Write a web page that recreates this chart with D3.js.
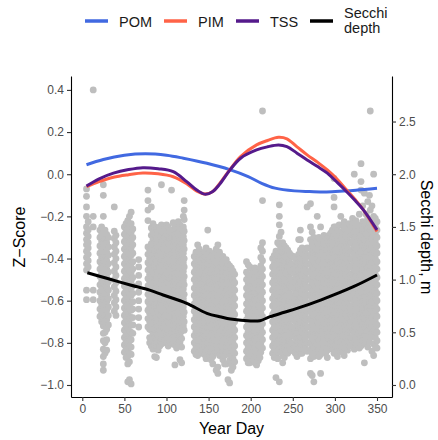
<!DOCTYPE html>
<html>
<head>
<meta charset="utf-8">
<script src="https://cdn.jsdelivr.net/npm/d3@7"></script>
<style>
  body { margin: 0; background: #fff; }
  svg text { font-family: "Liberation Sans", Arial, Helvetica, sans-serif; }
</style>
</head>
<body>
<div id="chart"></div>
<script>
// Secchi observations, one column per sampling day: [day, depth1, depth2, ...] (m)
var secchiObs = [
  [5, 1.86,1.79,1.69,1.6,1.5,1.44,1.38,1.33,1.27,1.21,1.15,1.09,0.9,0.81],
  [7, 1.55,1.47,1.41,1.35,1.3,1.24,1.18,1.12],
  [13, 2.8,1.6,1.5,0.9,0.81],
  [21, 1.47,1.4,1.32,1.25,1.17,1.1,1.03,0.95,0.88,0.8,0.72,0.65],
  [23, 1.5,1.43,1.36,1.28,1.21,1.13,1.06,0.98,0.91,0.84,0.76,0.68,0.6],
  [25, 1.9,1.8,1.6,1.44,1.36,1.29,1.21,1.13,1.06,0.99,0.91,0.84,0.77,0.7,0.63,0.56,0.49,0.42,0.34,0.27,0.2,0.14],
  [27, 1.47,1.39,1.32,1.24,1.17,1.1,1.02,0.95,0.87,0.8,0.73,0.66,0.59,0.5,0.4,0.3],
  [29, 1.43,1.35,1.26,1.18,1.1,1.02,0.94,0.86,0.79,0.71,0.62,0.53,0.43,0.33],
  [31, 1.4,1.31,1.23,1.15,1.07,0.98,0.9,0.82,0.74,0.66,0.57],
  [38, 1.69,1.46,1.39,1.31,1.24,1.16,1.08,1.0,0.93,0.85,0.78,0.7],
  [40, 1.42,1.35,1.27,1.2,1.12,1.04,0.97,0.89,0.81,0.74,0.66],
  [50, 1.5,1.43,1.36,1.29,1.22,1.15,1.08,1.01,0.94,0.87,0.8,0.73,0.66,0.59,0.52,0.45,0.38,0.31],
  [52, 1.53,1.46,1.39,1.32,1.25,1.18,1.11,1.04,0.97,0.9,0.83,0.76,0.69,0.62,0.55,0.48,0.41,0.34,0.26],
  [54, 1.56,1.48,1.41,1.34,1.26,1.19,1.12,1.05,0.97,0.9,0.83,0.76,0.69,0.62,0.55,0.48,0.41,0.34,0.27,0.2,0.03],
  [56, 1.6,1.51,1.44,1.37,1.29,1.22,1.15,1.08,1.0,0.93,0.86,0.79,0.72,0.65,0.58,0.51,0.44,0.37,0.3,0.22,0.05],
  [58, 1.64,1.53,1.45,1.37,1.3,1.23,1.15,1.07,0.99,0.92,0.85,0.78,0.71,0.64,0.57,0.5,0.43,0.36,0.29,0.01],
  [60, 1.48,1.4,1.33,1.25,1.17,1.1,1.02,0.94,0.87,0.79,0.72,0.64,0.57,0.49],
  [67, 1.19,1.12,1.04,0.96,0.88,0.8,0.72,0.64,0.55],
  [78, 1.85,1.75,1.66,1.56,1.31,1.24,1.16,1.09,1.01,0.94,0.86,0.79,0.71,0.63,0.55],
  [80, 1.28,1.2,1.13,1.05,0.98,0.9,0.83,0.75,0.68,0.6,0.53,0.45,0.4],
  [82, 1.69,1.49,1.42,1.34,1.27,1.19,1.12,1.04,0.97,0.89,0.82,0.74,0.67,0.59,0.52,0.44,0.37],
  [84, 1.53,1.46,1.38,1.31,1.23,1.16,1.08,1.01,0.93,0.86,0.78,0.71,0.63,0.56,0.48,0.41,0.34],
  [86, 1.5,1.43,1.35,1.28,1.2,1.13,1.05,0.98,0.9,0.83,0.75,0.68,0.6,0.53,0.45,0.38,0.27],
  [88, 1.47,1.39,1.32,1.24,1.17,1.09,1.02,0.94,0.87,0.79,0.72,0.64,0.57,0.49,0.42,0.35,0.26],
  [90, 1.46,1.38,1.31,1.23,1.16,1.08,1.01,0.93,0.86,0.78,0.71,0.63,0.56,0.48,0.41,0.33],
  [92, 1.5,1.42,1.35,1.27,1.2,1.12,1.05,0.97,0.9,0.82,0.75,0.67,0.6,0.52,0.45,0.37],
  [94, 1.9,1.52,1.44,1.36,1.29,1.21,1.14,1.06,0.99,0.91,0.84,0.76,0.69,0.61,0.54,0.46,0.39],
  [96, 1.45,1.37,1.3,1.22,1.15,1.07,1.0,0.92,0.85,0.77,0.7,0.62,0.55,0.47,0.4],
  [98, 1.48,1.4,1.33,1.25,1.18,1.1,1.03,0.95,0.88,0.8,0.73,0.65,0.58,0.5,0.43],
  [100, 1.52,1.44,1.37,1.29,1.22,1.14,1.07,0.99,0.92,0.84,0.77,0.69,0.62,0.54,0.47,0.4],
  [102, 1.5,1.42,1.35,1.27,1.2,1.12,1.05,0.97,0.9,0.82,0.75,0.67,0.6,0.52,0.45,0.37],
  [104, 1.46,1.39,1.31,1.24,1.16,1.09,1.01,0.94,0.86,0.79,0.71,0.64,0.56,0.49,0.41],
  [106, 1.85,1.47,1.39,1.32,1.24,1.17,1.09,1.02,0.94,0.87,0.79,0.72,0.64,0.57,0.49,0.42],
  [108, 1.54,1.43,1.36,1.28,1.21,1.13,1.06,0.98,0.91,0.83,0.76,0.68,0.61,0.53,0.46,0.39],
  [110, 1.51,1.43,1.36,1.28,1.21,1.13,1.06,0.98,0.91,0.83,0.76,0.68,0.61,0.53,0.46,0.38,0.19],
  [112, 1.47,1.4,1.32,1.25,1.17,1.1,1.02,0.95,0.87,0.8,0.72,0.65,0.57,0.5,0.42,0.35],
  [114, 1.55,1.45,1.38,1.3,1.23,1.15,1.08,1.0,0.93,0.85,0.78,0.7,0.63,0.55,0.48,0.4],
  [116, 1.52,1.45,1.37,1.3,1.22,1.15,1.07,1.0,0.92,0.85,0.77,0.7,0.62,0.55,0.47,0.4,0.24],
  [118, 1.49,1.41,1.34,1.26,1.19,1.11,1.04,0.96,0.89,0.81,0.74,0.66,0.59,0.51,0.44,0.36,0.21],
  [120, 1.6,1.5,1.41,1.33,1.25,1.16,1.08,0.99,0.91,0.82,0.74,0.65,0.56],
  [121, 1.75,1.66,1.57,1.46,1.37,1.29,1.2,1.12,1.03,0.95,0.86,0.78,0.69,0.6,0.52],
  [133, 1.22,1.15,1.07,1.0,0.92,0.85,0.77,0.7,0.62,0.55,0.47,0.4,0.32],
  [135, 1.26,1.18,1.11,1.03,0.96,0.88,0.81,0.73,0.66,0.58,0.51,0.43,0.36,0.29],
  [137, 1.33,1.25,1.18,1.1,1.03,0.95,0.88,0.8,0.73,0.65,0.58,0.5,0.43,0.35,0.28],
  [139, 1.29,1.21,1.14,1.06,0.99,0.91,0.84,0.76,0.69,0.61,0.54,0.46,0.39,0.31],
  [141, 1.24,1.16,1.09,1.01,0.94,0.86,0.79,0.71,0.64,0.56,0.49,0.41,0.34],
  [143, 1.2,1.12,1.05,0.97,0.9,0.82,0.75,0.67,0.6,0.52,0.45,0.37,0.3],
  [145, 1.26,1.19,1.11,1.04,0.96,0.89,0.81,0.74,0.66,0.59,0.51,0.44,0.36,0.29],
  [147, 1.3,1.22,1.15,1.07,1.0,0.92,0.85,0.77,0.7,0.62,0.55,0.47,0.4,0.32,0.25],
  [149, 1.47,1.23,1.15,1.08,1.0,0.93,0.85,0.78,0.7,0.63,0.55,0.48,0.4,0.33],
  [151, 1.27,1.19,1.12,1.04,0.97,0.89,0.82,0.74,0.67,0.59,0.52,0.44,0.37,0.29],
  [153, 1.21,1.14,1.06,0.99,0.91,0.84,0.76,0.69,0.61,0.54,0.46,0.39,0.31,0.24],
  [155, 1.24,1.17,1.1,1.02,0.95,0.87,0.8,0.72,0.65,0.57,0.5,0.42,0.35,0.27,0.2],
  [157, 1.25,1.17,1.1,1.02,0.95,0.87,0.8,0.72,0.65,0.57,0.5,0.42,0.35],
  [159, 1.29,1.21,1.13,1.06,0.98,0.91,0.83,0.76,0.68,0.61,0.53,0.46,0.38,0.31,0.14],
  [161, 1.33,1.22,1.14,1.07,0.99,0.92,0.84,0.77,0.69,0.62,0.54,0.47,0.39,0.32,0.17,0.11],
  [163, 1.26,1.18,1.1,1.03,0.95,0.88,0.8,0.73,0.65,0.58,0.5,0.43,0.35,0.28],
  [165, 1.2,1.12,1.05,0.97,0.9,0.82,0.75,0.67,0.6,0.52,0.45,0.37,0.3],
  [167, 1.22,1.14,1.07,0.99,0.92,0.84,0.77,0.69,0.62,0.54,0.47,0.39,0.32,0.24],
  [169, 1.18,1.1,1.03,0.95,0.88,0.8,0.73,0.65,0.58,0.5,0.43,0.35,0.28,0.2],
  [171, 1.19,1.11,1.04,0.96,0.89,0.81,0.74,0.66,0.59,0.51,0.44,0.36,0.29,0.2],
  [173, 1.15,1.07,1.0,0.92,0.85,0.77,0.7,0.62,0.55,0.47,0.4,0.32,0.05],
  [175, 1.13,1.05,0.98,0.9,0.83,0.75,0.68,0.6,0.53,0.45,0.38,0.3,0.23,0.02],
  [177, 1.11,1.02,0.95,0.87,0.8,0.72,0.65,0.57,0.5,0.42,0.35,0.27,0.2,0.14],
  [179, 1.08,1.0,0.93,0.85,0.78,0.7,0.63,0.55,0.48,0.4,0.33,0.25,0.17],
  [181, 1.05,0.97,0.9,0.82,0.75,0.67,0.6,0.52,0.45,0.37,0.3,0.22],
  [195, 1.17,1.07,1.0,0.92,0.85,0.77,0.7,0.62,0.55,0.47,0.4,0.32,0.25],
  [197, 1.14,1.04,0.96,0.89,0.81,0.74,0.66,0.59,0.51,0.44,0.36,0.28,0.21],
  [199, 1.12,1.04,0.97,0.89,0.82,0.74,0.67,0.59,0.52,0.44,0.37,0.29,0.21],
  [201, 1.1,1.01,0.93,0.86,0.78,0.71,0.63,0.56,0.48,0.41,0.33,0.25],
  [203, 1.07,1.0,0.92,0.85,0.77,0.7,0.62,0.55,0.47,0.4,0.32,0.24],
  [205, 1.11,1.03,0.96,0.88,0.81,0.73,0.66,0.58,0.51,0.43,0.36,0.28,0.21],
  [207, 1.1,1.02,0.95,0.87,0.8,0.72,0.65,0.57,0.5,0.42,0.35,0.27,0.19],
  [209, 1.06,0.98,0.91,0.83,0.76,0.68,0.61,0.53,0.46,0.38,0.31,0.23],
  [211, 1.08,1.0,0.93,0.85,0.78,0.7,0.63,0.55,0.48,0.4,0.33,0.26],
  [212, 1.3,1.21,1.13,1.06,0.99,0.91,0.84,0.76,0.69,0.61,0.54,0.46,0.39,0.31],
  [214, 2.6,1.75,1.35,1.27,1.18,1.1,1.03,0.95,0.88,0.8,0.73,0.65,0.58,0.5,0.43,0.35],
  [226, 1.2,1.12,1.05,0.97,0.9,0.82,0.75,0.67,0.6,0.52,0.45,0.37,0.3],
  [228, 1.23,1.15,1.08,1.0,0.93,0.85,0.78,0.7,0.63,0.55,0.48,0.4,0.33,0.26],
  [230, 1.27,1.19,1.11,1.04,0.96,0.89,0.81,0.74,0.66,0.59,0.51,0.44,0.36,0.29,0.07],
  [232, 1.35,1.23,1.15,1.07,1.0,0.92,0.85,0.77,0.7,0.62,0.55,0.47,0.4,0.32,0.25],
  [234, 1.71,1.6,1.52,1.41,1.33,1.25,1.17,1.09,1.02,0.94,0.87,0.79,0.72,0.64,0.57,0.49,0.42,0.34,0.03],
  [236, 1.45,1.3,1.22,1.14,1.06,0.98,0.91,0.83,0.76,0.68,0.61,0.53,0.46,0.38,0.31],
  [238, 1.35,1.26,1.18,1.11,1.03,0.96,0.88,0.81,0.73,0.66,0.58,0.51,0.43,0.36,0.28,0.21],
  [240, 1.32,1.24,1.16,1.09,1.01,0.94,0.86,0.79,0.71,0.64,0.56,0.49,0.41,0.34,0.26],
  [242, 1.3,1.22,1.14,1.07,0.99,0.92,0.84,0.77,0.69,0.62,0.54,0.47,0.39,0.32],
  [244, 1.28,1.2,1.12,1.05,0.97,0.9,0.82,0.75,0.67,0.6,0.52,0.45,0.37,0.3],
  [246, 1.25,1.17,1.1,1.02,0.95,0.87,0.8,0.72,0.65,0.57,0.5,0.42,0.35],
  [248, 1.23,1.15,1.08,1.0,0.93,0.85,0.78,0.7,0.63,0.55,0.48,0.4,0.33],
  [251, 1.22,1.14,1.07,0.99,0.92,0.84,0.77,0.69,0.62,0.54,0.47,0.39,0.32],
  [253, 1.2,1.12,1.05,0.97,0.9,0.82,0.75,0.67,0.6,0.52,0.45,0.37,0.3],
  [255, 1.17,1.09,1.02,0.94,0.87,0.79,0.72,0.64,0.57,0.49,0.42,0.34,0.27],
  [257, 1.38,1.24,1.16,1.09,1.01,0.94,0.86,0.79,0.71,0.64,0.56,0.49,0.41,0.34],
  [259, 1.47,1.38,1.28,1.2,1.13,1.05,0.98,0.9,0.83,0.75,0.68,0.6,0.53,0.45,0.38,0.3],
  [261, 1.3,1.2,1.13,1.05,0.98,0.9,0.83,0.75,0.68,0.6,0.53,0.45,0.38,0.3],
  [263, 1.24,1.16,1.09,1.01,0.94,0.86,0.79,0.71,0.64,0.56,0.49,0.41,0.34],
  [265, 1.26,1.18,1.11,1.03,0.96,0.88,0.81,0.73,0.66,0.58,0.51,0.43,0.36],
  [267, 1.69,1.3,1.22,1.15,1.07,1.0,0.92,0.85,0.77,0.7,0.62,0.55,0.47,0.4,0.32],
  [271, 1.72,1.5,1.38,1.3,1.23,1.15,1.08,1.0,0.93,0.85,0.78,0.7,0.63,0.55,0.48,0.4,0.33,0.25,0.11],
  [273, 1.45,1.34,1.27,1.19,1.12,1.04,0.97,0.89,0.82,0.74,0.67,0.59,0.52,0.44,0.37,0.29,0.09],
  [275, 1.4,1.32,1.25,1.17,1.1,1.02,0.95,0.87,0.8,0.72,0.65,0.57,0.5,0.42,0.35,0.27,0.03],
  [277, 1.38,1.3,1.23,1.15,1.08,1.0,0.93,0.85,0.78,0.7,0.63,0.55,0.48,0.4,0.33],
  [279, 1.6,1.36,1.28,1.21,1.13,1.06,0.98,0.91,0.83,0.76,0.68,0.61,0.53,0.46,0.38,0.31],
  [281, 1.4,1.32,1.24,1.17,1.09,1.02,0.94,0.87,0.79,0.72,0.64,0.57,0.49,0.42,0.34,0.27],
  [283, 1.5,1.34,1.26,1.19,1.11,1.04,0.96,0.89,0.81,0.74,0.66,0.59,0.51,0.44,0.36,0.29,0.11],
  [285, 1.38,1.3,1.23,1.15,1.08,1.0,0.93,0.85,0.78,0.7,0.63,0.55,0.48,0.4,0.33],
  [287, 1.42,1.34,1.27,1.19,1.12,1.04,0.97,0.89,0.82,0.74,0.67,0.59,0.52,0.44,0.37],
  [289, 1.4,1.31,1.23,1.16,1.08,1.01,0.93,0.86,0.78,0.71,0.63,0.56,0.48,0.41,0.3],
  [291, 1.38,1.3,1.23,1.15,1.08,1.0,0.93,0.85,0.78,0.7,0.63,0.55,0.48,0.4,0.33,0.26],
  [293, 1.42,1.34,1.26,1.19,1.11,1.04,0.96,0.89,0.81,0.74,0.66,0.59,0.51,0.44,0.36],
  [295, 1.44,1.36,1.29,1.21,1.14,1.06,0.99,0.91,0.84,0.76,0.69,0.61,0.54,0.46,0.39],
  [297, 1.47,1.4,1.32,1.25,1.17,1.1,1.02,0.95,0.87,0.8,0.72,0.65,0.57,0.5,0.42,0.34],
  [299, 1.96,1.78,1.69,1.5,1.42,1.35,1.27,1.2,1.12,1.05,0.97,0.9,0.82,0.75,0.67,0.6,0.52,0.45,0.37,0.3],
  [301, 1.5,1.43,1.35,1.28,1.2,1.13,1.05,0.98,0.9,0.83,0.75,0.68,0.6,0.53,0.45,0.38,0.3],
  [303, 1.47,1.39,1.32,1.24,1.17,1.09,1.02,0.94,0.87,0.79,0.72,0.64,0.57,0.49,0.42,0.34,0.27],
  [305, 1.52,1.41,1.34,1.26,1.19,1.11,1.04,0.96,0.89,0.81,0.74,0.66,0.59,0.51,0.44,0.36],
  [307, 1.6,1.45,1.37,1.3,1.22,1.15,1.07,1.0,0.92,0.85,0.77,0.7,0.62,0.55,0.47,0.4,0.32],
  [309, 1.51,1.44,1.36,1.29,1.21,1.14,1.06,0.99,0.91,0.84,0.76,0.69,0.61,0.54,0.46,0.39,0.31],
  [311, 1.55,1.48,1.4,1.33,1.25,1.18,1.1,1.03,0.95,0.88,0.8,0.73,0.65,0.58,0.5,0.43,0.35,0.28],
  [313, 1.5,1.42,1.35,1.27,1.2,1.12,1.05,0.97,0.9,0.82,0.75,0.67,0.6,0.52,0.45,0.37],
  [315, 1.46,1.38,1.31,1.23,1.16,1.08,1.01,0.93,0.86,0.78,0.71,0.63,0.56,0.48,0.41,0.33],
  [317, 1.53,1.45,1.35,1.27,1.19,1.12,1.04,0.97,0.89,0.82,0.74,0.67,0.59,0.52,0.44,0.37],
  [319, 1.5,1.42,1.35,1.27,1.2,1.12,1.05,0.97,0.9,0.82,0.75,0.67,0.6,0.52,0.45,0.38],
  [321, 1.58,1.5,1.42,1.35,1.28,1.2,1.13,1.05,0.98,0.9,0.83,0.75,0.68,0.6,0.53,0.45,0.38],
  [323, 2.0,1.54,1.46,1.39,1.31,1.24,1.16,1.09,1.01,0.94,0.86,0.79,0.71,0.64,0.56,0.49,0.41,0.34],
  [325, 1.56,1.48,1.41,1.33,1.26,1.18,1.11,1.03,0.96,0.88,0.81,0.73,0.66,0.58,0.51,0.43,0.36],
  [327, 1.52,1.44,1.37,1.29,1.22,1.14,1.07,0.99,0.92,0.84,0.77,0.69,0.62,0.54,0.47,0.39],
  [329, 1.62,1.48,1.4,1.33,1.25,1.18,1.1,1.03,0.95,0.88,0.8,0.73,0.65,0.58,0.5,0.43,0.35],
  [331, 2.1,1.93,1.85,1.5,1.42,1.35,1.27,1.2,1.12,1.05,0.97,0.9,0.82,0.75,0.67,0.6,0.52,0.45,0.37],
  [333, 1.7,1.55,1.47,1.39,1.32,1.24,1.17,1.09,1.02,0.94,0.87,0.79,0.72,0.64,0.57,0.49,0.42],
  [335, 1.82,1.53,1.45,1.38,1.3,1.23,1.15,1.08,1.0,0.93,0.85,0.78,0.7,0.63,0.55,0.48,0.4,0.21],
  [337, 1.62,1.52,1.44,1.37,1.29,1.22,1.14,1.07,0.99,0.92,0.84,0.77,0.69,0.62,0.54,0.47,0.39],
  [339, 1.74,1.58,1.48,1.41,1.33,1.26,1.18,1.11,1.03,0.96,0.88,0.81,0.73,0.66,0.58,0.51,0.43,0.36],
  [341, 1.8,1.55,1.47,1.39,1.32,1.24,1.17,1.09,1.02,0.94,0.87,0.79,0.72,0.64,0.57,0.49,0.41],
  [342, 2.6,1.66,1.5,1.43,1.35,1.28,1.2,1.13,1.05,0.98,0.9,0.83,0.75,0.68,0.6,0.53,0.45],
  [344, 1.7,1.54,1.46,1.39,1.31,1.24,1.16,1.09,1.01,0.94,0.86,0.79,0.71,0.64,0.56,0.49,0.32],
  [346, 2.0,1.6,1.51,1.44,1.36,1.29,1.21,1.14,1.06,0.99,0.91,0.84,0.76,0.69,0.61,0.54,0.46,0.39,0.28],
  [348, 1.58,1.5,1.43,1.35,1.28,1.2,1.13,1.05,0.98,0.9,0.83,0.75,0.68,0.6,0.53,0.45,0.37],
  [350, 1.55,1.47,1.4,1.32,1.25,1.17,1.1,1.02,0.95,0.87,0.8,0.72,0.65,0.57,0.5,0.42,0.35]
];

// Smoothed z-score trends (left axis)
var pomDays = [5, 25, 50, 75, 100, 120, 148, 175, 197, 213, 229, 252, 270, 290, 310, 325, 350];
var pomZ    = [0.045, 0.07, 0.09, 0.097, 0.09, 0.076, 0.052, 0.022, -0.011, -0.043, -0.066, -0.079, -0.082, -0.084, -0.08, -0.076, -0.067];

var mixDays = [5, 20, 37, 55, 72, 90, 108, 124, 136, 146, 155, 163, 175, 188, 207, 220, 233, 243, 255, 267, 280, 291, 303, 314, 324, 334, 350];
var pimZ    = [-0.059, -0.035, -0.014, -0.002, 0.006, 0.002, -0.012, -0.045, -0.08, -0.094, -0.082, -0.045, 0.02, 0.084, 0.139, 0.16, 0.175, 0.168, 0.13, 0.092, 0.055, 0.02, -0.025, -0.075, -0.12, -0.17, -0.272];
var tssZ    = [-0.056, -0.022, 0.005, 0.022, 0.031, 0.026, 0.012, -0.035, -0.075, -0.095, -0.082, -0.048, 0.018, 0.076, 0.115, 0.13, 0.139, 0.131, 0.1, 0.068, 0.035, 0.005, -0.04, -0.083, -0.125, -0.17, -0.264];

// Smoothed Secchi depth (right axis, m)
var secchiDays  = [6, 30, 57, 80, 96, 124, 148, 165, 176, 200, 211, 223, 240, 255, 283, 322, 350];
var secchiDepth = [1.065, 1.01, 0.949, 0.9, 0.854, 0.775, 0.68, 0.645, 0.626, 0.607, 0.61, 0.648, 0.69, 0.727, 0.806, 0.933, 1.044];

var xTicks = [0, 50, 100, 150, 200, 250, 300, 350];
var zTicks = [-1.0, -0.8, -0.6, -0.4, -0.2, 0.0, 0.2, 0.4];
var depthTicks = [0.0, 0.5, 1.0, 1.5, 2.0, 2.5];

var legendNames = ["POM", "PIM", "TSS", "Secchi\ndepth"];
var legendColors = ["#4169E1", "#FF6347", "#551A8B", "#000000"];

(function () {
    "use strict";
    var width = 438, height = 440;
    var margin = {left: 71, right: 46, top: 76, bottom: 43};

    var svg = d3.select("#chart").append("svg")
        .attr("width", width)
        .attr("height", height);

    var x = d3.scaleLinear()
        .domain([-13.4, 367.8])
        .range([margin.left, width - margin.right]);

    var y = d3.scaleLinear()   // z-score
        .domain([-1.057, 0.466])
        .range([height - margin.bottom, margin.top]);

    // secondary axis: depth = 2 * (z + 1)
    var yDepth = d3.scaleLinear()
        .domain(y.domain().map(function (z) { return 2 * (z + 1); }))
        .range(y.range());

    //Flatten observation columns into points
    var points = [];
    secchiObs.forEach(function (col) {
        for (var i = 1; i < col.length; i++) points.push({day: col[0], depth: col[i]});
    });

    svg.append("g").selectAll("circle")
        .data(points)
        .enter().append("circle")
        .attr("cx", function (d) { return x(d.day); })
        .attr("cy", function (d) { return yDepth(d.depth); })
        .attr("r", 3.4)
        .attr("fill", "#BEBEBE");

    //Trend lines
    var line = d3.line().curve(d3.curveCatmullRom.alpha(0.5));
    function drawLine(days, vals, scale, color) {
        svg.append("path")
            .attr("d", line(days.map(function (d, i) { return [x(d), scale(vals[i])]; })))
            .attr("fill", "none")
            .attr("stroke", color)
            .attr("stroke-width", 3)
            .attr("stroke-linecap", "butt");
    }
    drawLine(pomDays, pomZ, y, legendColors[0]);
    drawLine(mixDays, pimZ, y, legendColors[1]);
    drawLine(mixDays, tssZ, y, legendColors[2]);
    drawLine(secchiDays, secchiDepth, yDepth, legendColors[3]);

    //Axes
    var fmt = function (v) { return d3.format(".1f")(v).replace("-", "\u2212"); };
    function styleAxis(g) {
        g.select(".domain").attr("stroke", "#000").attr("stroke-width", 1.1);
        g.selectAll(".tick line").attr("stroke", "#333").attr("stroke-width", 1.1);
        g.selectAll(".tick text").attr("fill", "#4D4D4D").style("font-size", "12px");
    }
    svg.append("g")
        .attr("transform", "translate(0," + (height - margin.bottom) + ")")
        .call(d3.axisBottom(x).tickValues(xTicks).tickSize(4).tickPadding(3).tickSizeOuter(0))
        .call(styleAxis);
    svg.append("g")
        .attr("transform", "translate(" + margin.left + ",0)")
        .call(d3.axisLeft(y).tickValues(zTicks).tickFormat(fmt).tickSize(4).tickPadding(3).tickSizeOuter(0))
        .call(styleAxis);
    svg.append("g")
        .attr("transform", "translate(" + (width - margin.right) + ",0)")
        .call(d3.axisRight(yDepth).tickValues(depthTicks).tickFormat(fmt).tickSize(4).tickPadding(3).tickSizeOuter(0))
        .call(styleAxis);

    //Axis titles
    svg.append("text")
        .attr("x", (margin.left + width - margin.right) / 2)
        .attr("y", 434)
        .attr("text-anchor", "middle")
        .style("font-size", "16px")
        .text("Year Day");
    svg.append("text")
        .attr("transform", "translate(25,237) rotate(-90)")
        .attr("text-anchor", "middle")
        .style("font-size", "16px")
        .text("Z\u2212Score");
    svg.append("text")
        .attr("transform", "translate(421,237) rotate(90)")
        .attr("text-anchor", "middle")
        .style("font-size", "16px")
        .text("Secchi depth, m");

    //Legend
    var keyX = [85, 164, 236, 310];
    var leg = svg.append("g").selectAll("g")
        .data(legendNames)
        .enter().append("g")
        .attr("transform", function (d, i) { return "translate(" + keyX[i] + ",21)"; });
    leg.append("line")
        .attr("x1", 0).attr("x2", 23)
        .attr("stroke", function (d, i) { return legendColors[i]; })
        .attr("stroke-width", 3.5);
    leg.append("text")
        .attr("x", 34)
        .style("font-size", "14.5px")
        .attr("fill", "#1A1A1A")
        .each(function (d) {
            var parts = d.split("\n"), t = d3.select(this);
            parts.forEach(function (p, j) {
                t.append("tspan")
                    .attr("x", 34)
                    .attr("y", parts.length === 1 ? 5.5 : (j === 0 ? -2.8 : 12.3))
                    .text(p);
            });
        });
})();
</script>
</body>
</html>
